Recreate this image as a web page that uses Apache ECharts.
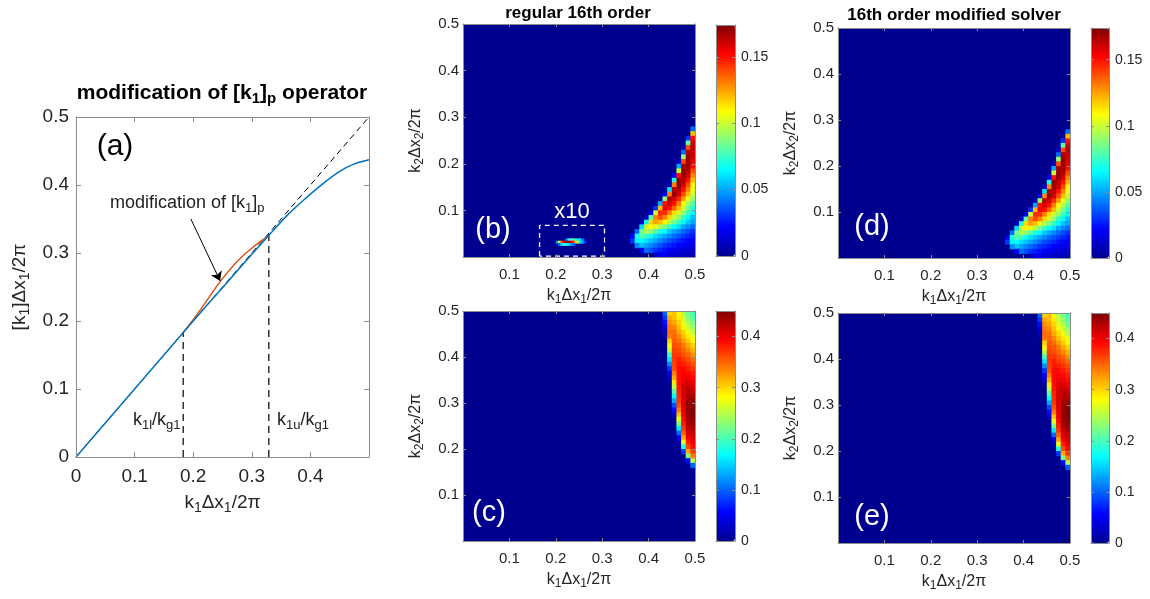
<!DOCTYPE html>
<html><head><meta charset="utf-8">
<script src="https://cdn.jsdelivr.net/npm/echarts@6/dist/echarts.min.js"></script>
<style>html,body{margin:0;padding:0;background:#fff}#chart{width:1150px;height:599px}</style>
</head><body><div id="chart"></div>
<script>
// ================= DATA =================
// Panel (a): modified wavenumber curves
const blueX = [0, 0.05, 0.1, 0.15, 0.2, 0.25, 0.3, 0.33, 0.36, 0.39, 0.42, 0.45, 0.475, 0.5];
const blueY = [0, 0.05, 0.1, 0.15, 0.2, 0.249, 0.298, 0.327, 0.355, 0.379, 0.401, 0.42, 0.431, 0.437];
const orangeX = [0.183, 0.2, 0.22, 0.24, 0.26, 0.28, 0.3, 0.315, 0.325];
const orangeY = [0.183, 0.202, 0.226, 0.251, 0.273, 0.292, 0.307, 0.317, 0.323];
const diagX = [0, 0.5];
const diagY = [0, 0.5];
const kLowerX = 0.183, kLowerY = 0.183;
const kUpperX = 0.329, kUpperY = 0.328;
const arrowFrom = [0.196, 0.350];
const arrowTo = [0.246, 0.259];

// Heatmaps: rows of [k2 centre, first k1 centre, values...] on a 0.01 grid
const CELL = 0.01;
const regularLowRows = [
  [0.275, 0.495, [0.04]],
  [0.265, 0.495, [0.12]],
  [0.255, 0.485, [0.03, 0.15]],
  [0.245, 0.485, [0.08, 0.16]],
  [0.235, 0.475, [0.01, 0.14, 0.165]],
  [0.225, 0.475, [0.04, 0.165, 0.16]],
  [0.215, 0.475, [0.09, 0.17, 0.16]],
  [0.205, 0.465, [0.01, 0.14, 0.17, 0.155]],
  [0.195, 0.465, [0.05, 0.165, 0.17, 0.15]],
  [0.185, 0.465, [0.10, 0.17, 0.165, 0.14]],
  [0.175, 0.455, [0.02, 0.15, 0.17, 0.16, 0.13]],
  [0.165, 0.455, [0.07, 0.17, 0.165, 0.15, 0.12]],
  [0.155, 0.445, [0.01, 0.13, 0.17, 0.16, 0.14, 0.11]],
  [0.145, 0.445, [0.06, 0.165, 0.165, 0.15, 0.13, 0.105]],
  [0.135, 0.435, [0.02, 0.13, 0.17, 0.16, 0.14, 0.12, 0.10]],
  [0.125, 0.425, [0.005, 0.09, 0.165, 0.16, 0.145, 0.125, 0.105, 0.09]],
  [0.115, 0.425, [0.05, 0.15, 0.16, 0.15, 0.13, 0.11, 0.095, 0.08]],
  [0.105, 0.415, [0.03, 0.12, 0.155, 0.15, 0.135, 0.12, 0.10, 0.085, 0.07]],
  [0.095, 0.405, [0.02, 0.10, 0.145, 0.145, 0.13, 0.115, 0.10, 0.09, 0.075, 0.065]],
  [0.085, 0.395, [0.01, 0.08, 0.13, 0.14, 0.13, 0.115, 0.10, 0.09, 0.075, 0.065, 0.055]],
  [0.075, 0.385, [0.01, 0.07, 0.115, 0.125, 0.12, 0.11, 0.095, 0.085, 0.075, 0.065, 0.055, 0.05]],
  [0.065, 0.385, [0.06, 0.10, 0.11, 0.105, 0.095, 0.085, 0.075, 0.065, 0.06, 0.05, 0.045, 0.04]],
  [0.055, 0.375, [0.04, 0.085, 0.095, 0.09, 0.08, 0.07, 0.065, 0.055, 0.05, 0.045, 0.04, 0.035, 0.03]],
  [0.045, 0.365, [0.02, 0.07, 0.08, 0.075, 0.068, 0.06, 0.055, 0.05, 0.045, 0.04, 0.036, 0.032, 0.028, 0.025]],
  [0.035, 0.365, [0.03, 0.065, 0.065, 0.06, 0.055, 0.05, 0.045, 0.04, 0.035, 0.032, 0.028, 0.025, 0.022, 0.02]],
  [0.025, 0.375, [0.045, 0.055, 0.05, 0.045, 0.04, 0.035, 0.03, 0.028, 0.025, 0.022, 0.02, 0.018, 0.016]],
  [0.015, 0.385, [0.02, 0.04, 0.035, 0.03, 0.027, 0.024, 0.02, 0.018, 0.016, 0.014, 0.012, 0.011]],
  [0.005, 0.415, [0.01, 0.02, 0.018, 0.015, 0.013, 0.011, 0.01, 0.009, 0.008]]
];
// spurious blob inside the "x10" box of panel (b), on a 0.005 grid
const BLOB_CELL = 0.005;
const regularBlobRows = [
  [0.0375, 0.2225, [0.04, 0.07, 0.08, 0.08, 0.07, 0.06, 0.06, 0.04]],
  [0.0325, 0.2025, [0.05, 0.10, 0.14, 0.16, 0.17, 0.17, 0.16, 0.15, 0.12, 0.09, 0.06, 0.05, 0.03]],
  [0.0275, 0.2075, [0.04, 0.06, 0.07, 0.07, 0.06, 0.05, 0.04]]
];
const regularHighRows = [
  [0.495, 0.435, [0.10, 0.30, 0.31, 0.28, 0.25, 0.22, 0.20]],
  [0.485, 0.435, [0.08, 0.32, 0.31, 0.29, 0.26, 0.23, 0.21]],
  [0.475, 0.435, [0.06, 0.33, 0.32, 0.30, 0.27, 0.245, 0.22]],
  [0.465, 0.435, [0.04, 0.34, 0.335, 0.31, 0.285, 0.26, 0.235]],
  [0.455, 0.435, [0.02, 0.345, 0.345, 0.32, 0.30, 0.275, 0.25]],
  [0.445, 0.435, [0.01, 0.34, 0.35, 0.335, 0.31, 0.29, 0.27]],
  [0.435, 0.445, [0.30, 0.355, 0.345, 0.325, 0.305, 0.285]],
  [0.425, 0.445, [0.28, 0.36, 0.355, 0.34, 0.32, 0.30]],
  [0.415, 0.445, [0.25, 0.365, 0.36, 0.35, 0.335, 0.315]],
  [0.405, 0.445, [0.20, 0.37, 0.37, 0.36, 0.35, 0.33]],
  [0.395, 0.445, [0.16, 0.37, 0.38, 0.37, 0.36, 0.345]],
  [0.385, 0.445, [0.12, 0.365, 0.385, 0.38, 0.37, 0.36]],
  [0.375, 0.445, [0.08, 0.36, 0.39, 0.39, 0.38, 0.37]],
  [0.365, 0.445, [0.05, 0.34, 0.39, 0.395, 0.39, 0.38]],
  [0.355, 0.445, [0.03, 0.32, 0.39, 0.40, 0.40, 0.39]],
  [0.345, 0.445, [0.01, 0.29, 0.39, 0.405, 0.41, 0.40]],
  [0.335, 0.455, [0.25, 0.385, 0.41, 0.42, 0.41]],
  [0.325, 0.455, [0.21, 0.38, 0.41, 0.425, 0.42]],
  [0.315, 0.455, [0.17, 0.375, 0.41, 0.43, 0.43]],
  [0.305, 0.455, [0.13, 0.37, 0.41, 0.435, 0.44]],
  [0.295, 0.455, [0.09, 0.36, 0.41, 0.44, 0.445]],
  [0.285, 0.455, [0.06, 0.34, 0.405, 0.44, 0.45]],
  [0.275, 0.455, [0.03, 0.31, 0.40, 0.44, 0.45]],
  [0.265, 0.465, [0.27, 0.39, 0.435, 0.445]],
  [0.255, 0.465, [0.22, 0.38, 0.43, 0.44]],
  [0.245, 0.465, [0.16, 0.37, 0.42, 0.43]],
  [0.235, 0.465, [0.10, 0.35, 0.41, 0.42]],
  [0.225, 0.465, [0.05, 0.32, 0.40, 0.41]],
  [0.215, 0.465, [0.02, 0.27, 0.38, 0.40]],
  [0.205, 0.475, [0.18, 0.36, 0.39]],
  [0.195, 0.475, [0.08, 0.32, 0.37]],
  [0.185, 0.485, [0.22, 0.34]],
  [0.175, 0.485, [0.06, 0.25]],
  [0.165, 0.495, [0.10]]
];
// the modified solver panels look identical in these regions (no blob)
const modifiedLowRows = regularLowRows;
const modifiedHighRows = regularHighRows;

const x10Box = [[0.165, 0.002], [0.165, 0.068], [0.305, 0.068], [0.305, 0.002], [0.165, 0.002]];
const lowMax = 0.174, lowTickStep = 0.05;
const highMax = 0.45, highTickStep = 0.1;

// ================= STYLE =================
const FONT = '"Liberation Sans", Arial, Helvetica, sans-serif';
const TEXT = '#262626';
const AXIS_GRAY = '#8c8c8c';
const DARK_BLUE = '#00008f';
const JET = ['#00008f', '#0000ff', '#0080ff', '#00ffff', '#80ff80', '#ffff00', '#ff8000', '#ff0000', '#800000'];

function rich(size, sub, color, weight) {
  const w = weight || 'normal';
  return {
    n: {fontSize: size, lineHeight: Math.round(size * 1.3), fontFamily: FONT, color: color, fill: color, fontWeight: w, verticalAlign: 'middle'},
    s: {fontSize: sub, lineHeight: sub, fontFamily: FONT, color: color, fill: color, fontWeight: w, verticalAlign: 'bottom'}
  };
}
const fmt = v => String(parseFloat(Number(v).toFixed(3)));

const grid = [], xAxis = [], yAxis = [], series = [], visualMap = [], graphic = [];

function axisBase(gi, r, pos, tickLen, lab, extra) {
  return Object.assign({
    type: 'value', gridIndex: gi, position: pos, min: r[0], max: r[1], interval: r[2], z: 10,
    splitLine: {show: false},
    axisLine: {show: true, onZero: false, lineStyle: {color: AXIS_GRAY, width: 1}},
    axisTick: {show: tickLen > 0, inside: true, length: tickLen, lineStyle: {color: AXIS_GRAY, width: 1}},
    axisLabel: lab ? Object.assign({show: true, color: TEXT, fontFamily: FONT, formatter: fmt}, lab) : {show: false}
  }, extra || {});
}
function addGrid(rect, bg, xr, yr, xTick, yTick, xLab, yLab, xName, yName, rightLab) {
  const gi = grid.length;
  grid.push({left: rect[0], top: rect[1], width: rect[2], height: rect[3], show: !!bg, backgroundColor: bg || 'transparent', borderWidth: 0});
  const xi = xAxis.length, yi = yAxis.length;
  xAxis.push(axisBase(gi, xr, 'bottom', xTick, xLab, xName));
  xAxis.push(axisBase(gi, xr, 'top', xTick, null));
  yAxis.push(axisBase(gi, yr, 'left', yTick, yLab, yName));
  yAxis.push(axisBase(gi, yr, 'right', yTick, rightLab));
  return {xi: xi, yi: yi};
}
function rowsToCells(rows, step) {
  const out = [];
  rows.forEach(r => r[2].forEach((v, i) => out.push([+(r[1] + i * step).toFixed(4), r[0], v])));
  return out;
}
function cellSeries(ax, rows, step) {
  const h = step / 2;
  return {
    type: 'custom', coordinateSystem: 'cartesian2d', xAxisIndex: ax.xi, yAxisIndex: ax.yi,
    data: rowsToCells(rows, step), clip: true, silent: true, encode: {x: 0, y: 1},
    renderItem: function (params, api) {
      const x = api.value(0), y = api.value(1);
      const a = api.coord([x - h, y + h]), b = api.coord([x + h, y - h]);
      return {type: 'rect', shape: {x: a[0], y: a[1], width: b[0] - a[0] + 0.6, height: b[1] - a[1] + 0.6},
              style: {fill: api.visual('color')}};
    }
  };
}
const k1Name = '{n|k}{s|1}{n|Δx}{s|1}{n|/2π}';
const k2Name = '{n|k}{s|2}{n|Δx}{s|2}{n|/2π}';

// ---------- panel (a) ----------
const axA = addGrid([76, 117, 293, 340], '#ffffff', [0, 0.5, 0.1], [0, 0.5, 0.1], 5, 5,
  {fontSize: 19, margin: 10, showMaxLabel: false},
  {fontSize: 19, margin: 7},
  {name: k1Name, nameLocation: 'middle', nameGap: 33, nameTextStyle: {rich: rich(19, 14, TEXT)}},
  {name: '{n|[k}{s|1}{n|]Δx}{s|1}{n|/2π}', nameLocation: 'middle', nameGap: 44, nameRotate: 90, nameTextStyle: {rich: rich(19, 14, TEXT)}});
const zip = (xs, ys) => xs.map((x, i) => [x, ys[i]]);
series.push({type: 'line', xAxisIndex: axA.xi, yAxisIndex: axA.yi, data: zip(diagX, diagY), showSymbol: false, silent: true,
  lineStyle: {color: '#000', width: 1, type: [6, 4]}, z: 1});
series.push({type: 'line', xAxisIndex: axA.xi, yAxisIndex: axA.yi, data: [[kLowerX, 0], [kLowerX, kLowerY]], showSymbol: false, silent: true,
  lineStyle: {color: '#333', width: 1.5, type: [7, 5]}, z: 1});
series.push({type: 'line', xAxisIndex: axA.xi, yAxisIndex: axA.yi, data: [[kUpperX, 0], [kUpperX, kUpperY]], showSymbol: false, silent: true,
  lineStyle: {color: '#333', width: 1.5, type: [7, 5]}, z: 1});
series.push({type: 'line', xAxisIndex: axA.xi, yAxisIndex: axA.yi, data: zip(orangeX, orangeY), showSymbol: false, silent: true, smooth: 0.3,
  lineStyle: {color: '#D95319', width: 1.5}, z: 3});
series.push({type: 'line', xAxisIndex: axA.xi, yAxisIndex: axA.yi, data: zip(blueX, blueY), showSymbol: false, silent: true, smooth: 0.3,
  lineStyle: {color: '#0072BD', width: 1.5}, z: 4});
series.push({type: 'lines', coordinateSystem: 'cartesian2d', xAxisIndex: axA.xi, yAxisIndex: axA.yi, silent: true,
  data: [{coords: [arrowFrom, arrowTo]}], symbol: ['none', 'arrow'], symbolSize: 9,
  lineStyle: {color: '#000', width: 1, opacity: 1, curveness: 0}, itemStyle: {color: '#000'}, z: 5});

// ---------- heatmap panels ----------
function heatPanel(rect, cbRect, lowRows, cmax, tickStep, extraRows) {
  const ax = addGrid(rect, DARK_BLUE, [0, 0.5, 0.1], [0, 0.5, 0.1], 3, 3,
    {fontSize: 15, margin: 10, showMinLabel: false},
    {fontSize: 15, margin: 4, showMinLabel: false},
    {name: k1Name, nameLocation: 'middle', nameGap: 28, nameTextStyle: {rich: rich(16, 12, TEXT)}},
    {name: k2Name, nameLocation: 'middle', nameGap: 37, nameRotate: 90, nameTextStyle: {rich: rich(16, 12, TEXT)}});
  const idx = [];
  idx.push(series.length); series.push(cellSeries(ax, lowRows, CELL));
  if (extraRows) { idx.push(series.length); series.push(cellSeries(ax, extraRows, BLOB_CELL)); }
  addGrid(cbRect, null, [0, 1, 1], [0, cmax, tickStep], 0, 3, null, null, null, null,
    {fontSize: 14, margin: 6, showMaxLabel: false});
  visualMap.push({type: 'continuous', seriesIndex: idx, dimension: 2, min: 0, max: cmax, calculable: false, hoverLink: false,
    inRange: {color: JET}, left: cbRect[0], top: cbRect[1], itemWidth: cbRect[2], itemHeight: cbRect[3], padding: 0,
    orient: 'vertical', text: null, z: 4});
  return ax;
}
const axB = heatPanel([463, 24, 232, 233], [716, 25, 19, 231], regularLowRows, lowMax, lowTickStep, regularBlobRows);
heatPanel([463, 311, 232, 230], [716, 311, 19, 230], regularHighRows, highMax, highTickStep);
heatPanel([838, 28, 232, 230], [1091, 28, 18, 230], modifiedLowRows, lowMax, lowTickStep);
heatPanel([838, 313, 232, 230], [1091, 313, 18, 230], modifiedHighRows, highMax, highTickStep);

series.push({type: 'line', xAxisIndex: axB.xi, yAxisIndex: axB.yi, data: x10Box, showSymbol: false, silent: true,
  lineStyle: {color: '#ffffff', width: 1.3, type: [5, 4]}, z: 6});

// ---------- texts ----------
function txt(x, y, text, r, align, color) {
  graphic.push({type: 'text', x: x, y: y, z: 100, silent: true,
    style: {text: text, rich: r, fill: color, align: align || 'center', textAlign: align || 'center',
            verticalAlign: 'middle', textVerticalAlign: 'middle'}});
}
txt(222, 93, '{n|modification of [k}{s|1}{n|]}{s|p}{n| operator}', rich(21, 15, '#000', 'bold'), 'center', '#000');
txt(578, 13, '{n|regular 16th order}', rich(17, 12, '#000', 'bold'), 'center', '#000');
txt(954, 15, '{n|16th order modified solver}', rich(17, 12, '#000', 'bold'), 'center', '#000');
txt(115, 147, '{n|(a)}', rich(30, 20, '#000'), 'center', '#000');
txt(110, 203, '{n|modification of [k}{s|1}{n|]}{s|p}', rich(18, 13, '#222'), 'left', '#222');
txt(133, 420, '{n|k}{s|1l}{n|/k}{s|g1}', rich(18, 13, '#222'), 'left', '#222');
txt(277, 420, '{n|k}{s|1u}{n|/k}{s|g1}', rich(18, 13, '#222'), 'left', '#222');
txt(493, 230, '{n|(b)}', rich(29, 20, '#ffffff'), 'center', '#ffffff');
txt(489, 513, '{n|(c)}', rich(29, 20, '#ffffff'), 'center', '#ffffff');
txt(872, 227, '{n|(d)}', rich(29, 20, '#ffffff'), 'center', '#ffffff');
txt(872, 517, '{n|(e)}', rich(29, 20, '#ffffff'), 'center', '#ffffff');
txt(572, 212, '{n|x10}', rich(22, 14, '#ffffff'), 'center', '#ffffff');

const chart = echarts.init(document.getElementById('chart'), null, {renderer: 'canvas'});
chart.setOption({
  animation: false,
  backgroundColor: '#ffffff',
  textStyle: {fontFamily: FONT},
  grid: grid, xAxis: xAxis, yAxis: yAxis, series: series, visualMap: visualMap, graphic: graphic
});
</script></body></html>
